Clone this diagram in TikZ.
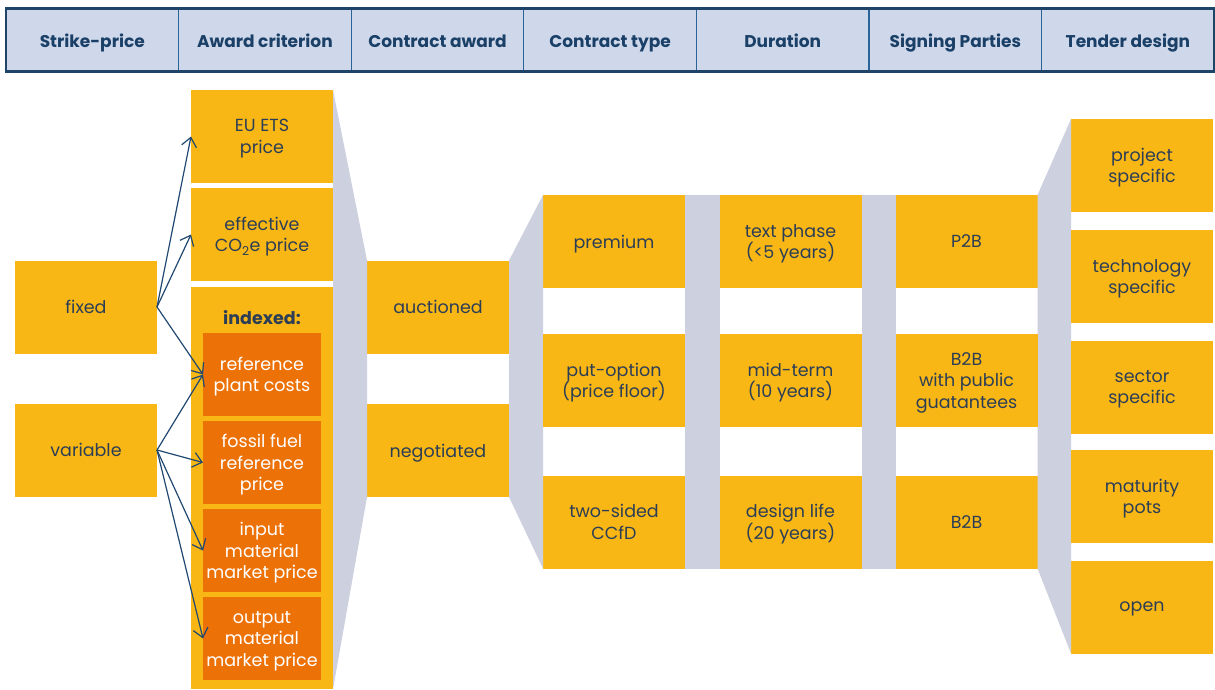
\documentclass[tikz,border=0pt]{standalone}
\usepackage{fontspec}
\setmainfont{Poppins}
\usetikzlibrary{positioning,arrows.meta}

\definecolor{hdfill}{RGB}{207,216,234}
\definecolor{hdline}{RGB}{42,100,152}
\definecolor{hdframe}{RGB}{30,68,104}
\definecolor{hdtext}{RGB}{27,64,104}
\definecolor{optyellow}{RGB}{249,183,21}
\definecolor{idxorange}{RGB}{236,114,8}
\definecolor{linkgray}{RGB}{205,208,222}
\definecolor{optext}{RGB}{44,62,86}
\definecolor{arrowblue}{RGB}{33,72,112}

\newcommand{\boxfont}{\fontsize{17.5}{21.5}\selectfont}
\newcommand{\headfont}{\fontsize{17}{20}\selectfont\bfseries}

\tikzset{
    head/.style={draw=hdline, line width=1.3pt, fill=hdfill,
        minimum width=172.6pt, minimum height=63pt,
        text height=16pt, text depth=2pt,
        inner sep=0pt, outer sep=0pt, font=\headfont, text=hdtext},
    opt/.style={fill=optyellow, minimum width=142pt, minimum height=93pt,
        inner sep=0pt, outer sep=0pt, align=center, text depth=0pt,
        font=\boxfont, text=optext},
    idx/.style={fill=idxorange, minimum width=118pt, minimum height=83pt,
        inner sep=0pt, outer sep=0pt, align=center, text depth=0pt,
        font=\boxfont, text=white},
    link/.style={fill=linkgray},
    pick/.style={draw=arrowblue, line width=1.2pt,
        -{Straight Barb[length=9pt,width=15pt,line width=1.2pt]}}
}

\begin{document}
\begin{tikzpicture}[x=1pt, y=-1pt]
\useasboundingbox (0,0) rectangle (1215,689);

% ===============================================================
% ==== Header row ====
% ===============================================================
\node[head, anchor=west] (hdstrike) at (6,40) {Strike-price};
\node[head, right=0pt of hdstrike] (hdaward) {Award criterion};
\node[head, right=0pt of hdaward] (hdcaward) {Contract award};
\node[head, right=0pt of hdcaward] (hdctype) {Contract type};
\node[head, right=0pt of hdctype] (hdduration) {Duration};
\node[head, right=0pt of hdduration] (hdparties) {Signing Parties};
\node[head, right=0pt of hdparties] (hdtender) {Tender design};
% outer frame
\draw[hdframe, line width=2.6pt] (hdstrike.north west) rectangle (hdtender.south east);

% ===============================================================
% ==== Grey links between the columns (drawn first) ====
% ===============================================================
\node[opt, anchor=north] (euets) at (262,90) {EU ETS\\price};
\node[opt, anchor=north, minimum height=402pt] (indexed) at (262,287) {};
\node[opt] (auct) at (438,307) {auctioned};
\node[opt] (neg) at (438,450.5) {negotiated};
\node[opt] (prem) at (614,241.5) {premium};
\node[opt] (ccfd) at (614,522) {two-sided\\CCfD};
\node[opt] (phase) at (790.5,241.5) {text phase\\(<5 years)};
\node[opt] (life) at (790.5,522) {design life\\(20 years)};
\node[opt] (p2b) at (966.5,241.5) {P2B};
\node[opt] (b2b) at (966.5,522) {B2B};
\node[opt] (proj) at (1142,165.5) {project\\specific};
\node[opt] (open) at (1142,607) {open};

\fill[link] (euets.north east) -- (auct.north west) -- (neg.south west) -- (indexed.south east) -- cycle;
\fill[link] (auct.north east) -- (prem.north west) -- (ccfd.south west) -- (neg.south east) -- cycle;
\fill[link] (prem.north east) rectangle (life.south west);
\fill[link] (phase.north east) rectangle (b2b.south west);
\fill[link] (p2b.north east) -- (proj.north west) -- (open.south west) -- (b2b.south east) -- cycle;

% ===============================================================
% ==== Strike-price ====
% ===============================================================
\node[opt] (fixed) at (86,307) {fixed};
\node[opt] (variable) at (86,450) {variable};

% ===============================================================
% ==== Award criterion ====
% ===============================================================
\node[opt, anchor=north] (effco) at (262,188) {effective\\CO\textsubscript{2}e price};
\node[font=\boxfont\bfseries, text=optext] (idxlabel) at (262,318) {indexed:};
\node[idx, anchor=north] (refplant) at (262,333) {reference\\plant costs};
\node[idx, anchor=north] (fossil) at (262,421) {fossil fuel\\reference\\price};
\node[idx, anchor=north] (inmat) at (262,509) {input\\material\\market price};
\node[idx, anchor=north] (outmat) at (262,597) {output\\material\\market price};

% ===============================================================
% ==== Contract type / Duration / Signing Parties ====
% ===============================================================
\node[opt] (putopt) at (614,380.5) {put-option\\(price floor)};
\node[opt] (midterm) at (790.5,380.5) {mid-term\\(10 years)};
\node[opt] (b2bpub) at (966.5,380.5) {B2B\\with public\\guatantees};

% ===============================================================
% ==== Tender design ====
% ===============================================================
\node[opt] (tech) at (1142,276.5) {technology\\specific};
\node[opt] (sector) at (1142,387) {sector\\specific};
\node[opt] (pots) at (1142,496.5) {maturity\\pots};

% arrows
\draw[pick] (fixed.east) -- (euets.west);
\draw[pick] (fixed.east) -- (effco.west);
\draw[pick] (fixed.east) -- (refplant.west);
\draw[pick] (variable.east) -- (refplant.west);
\draw[pick] (variable.east) -- (fossil.west);
\draw[pick] (variable.east) -- (inmat.west);
\draw[pick] (variable.east) -- (outmat.west);

\end{tikzpicture}
\end{document}
